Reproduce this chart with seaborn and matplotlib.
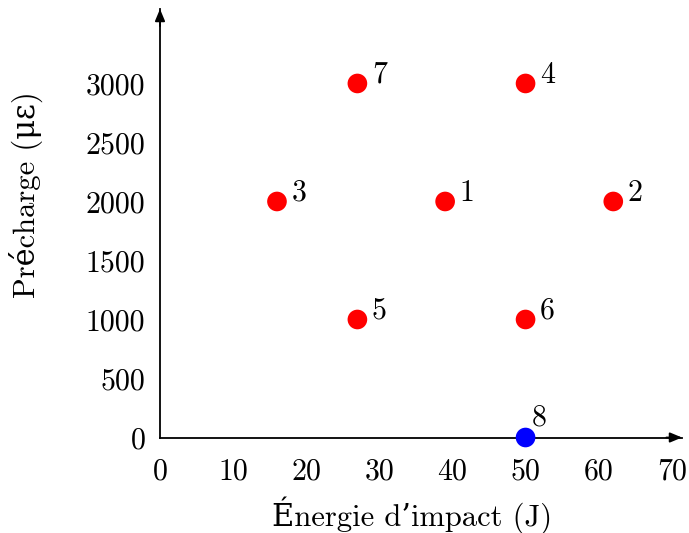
import matplotlib
matplotlib.use("Agg")
import matplotlib.pyplot as plt
import seaborn as sns
import pandas as pd

# Data
energie = [39, 62, 16, 50, 27, 50, 27, 50]
precharge = [2000, 2000, 2000, 3000, 1000, 1000, 3000, 0]
labels = ["1", "2", "3", "4", "5", "6", "7", "8"]
groupe = ["a", "a", "a", "a", "a", "a", "a", "b"]
x_ticks = [0, 10, 20, 30, 40, 50, 60, 70]
y_ticks = [0, 500, 1000, 1500, 2000, 2500, 3000]

df = pd.DataFrame({"x": energie, "y": precharge, "lab": labels, "g": groupe})

sns.set_theme(style="white")
plt.rcParams["font.family"] = ["cmr10", "DejaVu Serif"]
plt.rcParams["mathtext.fontset"] = "cm"
plt.rcParams["axes.formatter.use_mathtext"] = True
plt.rcParams["axes.unicode_minus"] = False

FS = 21.5
W, H = 689, 533
fig = plt.figure(figsize=(W / 100, H / 100), dpi=100)
x0, x1 = 160, 682
y0, y1 = 437.5, 9
ax = fig.add_axes([x0 / W, 1 - y0 / H, (x1 - x0) / W, (y0 - y1) / H])

sns.scatterplot(data=df, x="x", y="y", hue="g",
                palette={"a": "#ff0000", "b": "#0000ff"},
                s=200, linewidth=0, legend=False, ax=ax, clip_on=False, zorder=5)

for xi, yi, lab in zip(energie, precharge, labels):
    if yi == 0:
        off = (4.5, 8.5)
    else:
        off = (10.5, 0.5)
    ax.annotate(lab, (xi, yi), xytext=off, textcoords="offset points",
                ha="left", va="baseline", fontsize=FS, color="black")

ax.set_xlim(0, 71.4)
ax.set_ylim(0, 3631)
ax.set_xticks(x_ticks)
ax.set_yticks(y_ticks)
ax.set_xticklabels([str(v) for v in x_ticks])
ax.set_yticklabels([str(v) for v in y_ticks])
ax.tick_params(axis="both", direction="inout", length=13, width=1.2,
               color="black", labelsize=FS, labelcolor="black")
ax.tick_params(axis="x", pad=8.5)
ax.tick_params(axis="y", pad=4)

for s in ["top", "right"]:
    ax.spines[s].set_visible(False)
for s in ["left", "bottom"]:
    ax.spines[s].set_color("black")
    ax.spines[s].set_linewidth(1.3)

# arrow heads
ax.annotate("", xy=(1.0, 0), xytext=(0.97, 0), xycoords="axes fraction",
            arrowprops=dict(arrowstyle="-|>,head_length=0.6,head_width=0.25",
                            color="black", lw=1.3, shrinkA=0, shrinkB=0))
ax.annotate("", xy=(0, 1.0), xytext=(0, 0.96), xycoords="axes fraction",
            arrowprops=dict(arrowstyle="-|>,head_length=0.6,head_width=0.25",
                            color="black", lw=1.3, shrinkA=0, shrinkB=0))

ax.set_xlabel("Énergie d’impact (J)", fontsize=22, color="black")
ax.set_ylabel("Précharge (\u03bc\u03b5)", fontsize=22, color="black")
ax.xaxis.set_label_coords((412 - x0) / (x1 - x0), (y0 - 496) / (y0 - y1))
ax.yaxis.set_label_coords((43 - x0) / (x1 - x0), (y0 - 195) / (y0 - y1))
ax.patch.set_alpha(0)

fig.savefig("out.png", dpi=100)
